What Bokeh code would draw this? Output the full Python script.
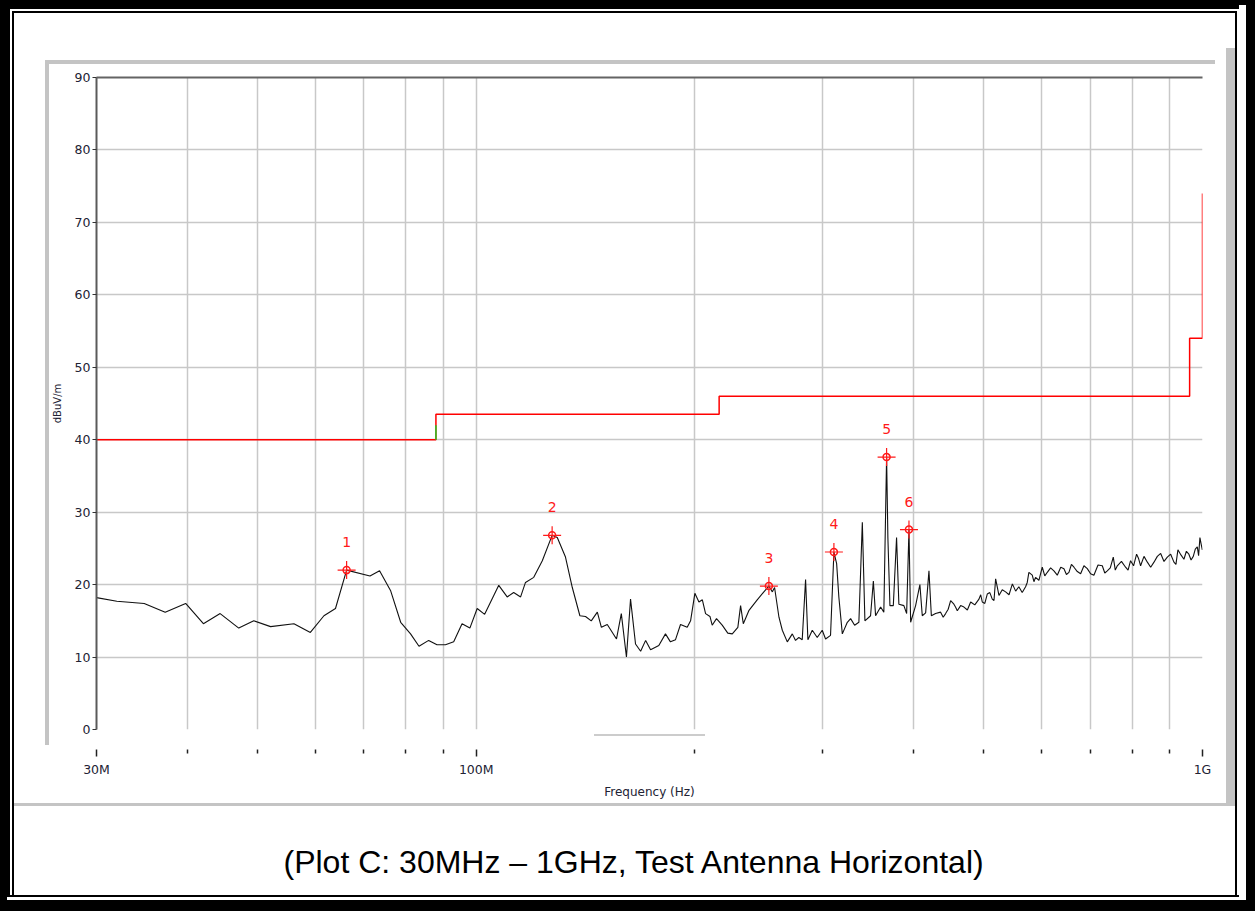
from bokeh.plotting import figure
from bokeh.models import LogAxis, FixedTicker, Range1d, Title
from bokeh.embed import file_html
from bokeh.resources import INLINE
from bokeh.core.properties import value

# ---- data (frequency in MHz, level in dBuV/m) ----
trace_freq = [
    30.0, 32.0, 34.9, 37.3, 39.8, 42.1, 44.4, 47.1, 49.4, 52.1, 56.1, 59.1, 61.7, 64.0, 66.3, 71.4, 73.6,
    76.2, 78.7, 81.2, 83.4, 86.0, 88.3, 90.7, 93.1, 95.6, 98.0, 100.3, 102.7, 107.4, 110.3, 112.6, 115.1,
    116.9, 120.0, 123.3, 127.2, 129.3, 132.7, 135.6, 138.9, 141.4, 144.0, 146.8, 148.7, 151.5, 156.0,
    158.4, 161.0, 163.1, 165.7, 168.4, 171.1,
    173.8, 178.4, 182.2, 185.1, 188.1, 191.1, 195.2, 197.3, 200.0, 202.6, 204.8, 206.9, 209.8, 211.3,
    214.2, 218.1, 222.0, 225.2, 229.2, 231.2, 233.2, 237.3, 243.7, 248.9, 252.9, 255.7, 257.5, 261.1,
    263.9, 268.1, 272.4, 275.2, 278.1, 281.1, 284.1, 286.2, 290.2, 294.8, 299.5, 302.7, 307.5, 310.8,
    313.5, 315.7, 319.2, 324.3, 327.7, 331.9, 336.4, 340.1, 342.9, 349.1, 352.2, 354.7, 360.4, 364.1,
    367.3, 368.8, 371.2, 375.2, 379.1, 381.9, 388.0, 391.4, 394.3, 396.4, 402.7, 408.2, 411.3, 415.7,
    420.1, 423.3, 429.0,
    435.9, 439.5, 442.9, 446.5, 450.0, 454.7, 457.0, 459.6, 464.5, 469.4, 474.5, 479.5, 485.8, 492.3,
    495.0, 497.5, 501.5, 505.4, 509.5, 513.5, 516.3, 519.0, 524.5, 530.0, 535.7, 541.5, 547.3, 553.0,
    558.6, 564.6, 570.7, 573.7, 576.7, 582.9, 586.0, 589.0, 595.3, 601.7, 606.5, 611.4, 617.8, 624.3,
    631.0, 638.0, 644.5, 649.6, 654.8, 660.0, 665.3, 672.4, 679.5, 686.7, 694.0, 701.3, 708.7, 718.0,
    727.8, 733.6, 739.4, 746.5, 753.6, 758.4, 763.3, 773.4, 783.6, 789.8, 796.1, 803.7, 811.4, 816.6,
    821.8, 830.7, 839.6, 848.5, 857.4, 866.6, 875.8, 885.1, 894.5, 904.0, 913.4, 919.2, 925.0, 933.9,
    942.8, 950.2, 957.7, 964.4, 971.2, 977.4, 983.6, 987.7, 991.9, 995.7, 999.5,
]
trace_db = [
    18.2, 17.7, 17.4, 16.2, 17.4, 14.6, 16.0, 14.0, 15.0, 14.2, 14.6, 13.4, 15.7, 16.7, 22.0, 21.2, 21.9,
    19.2, 14.8, 13.2, 11.5, 12.3, 11.7, 11.7, 12.1, 14.6, 14.0, 16.7, 15.9, 19.9, 18.3, 18.9, 18.3,
    20.3, 21.0, 23.3, 26.8, 26.5, 23.8, 19.6, 15.7, 15.6, 15.0, 16.2, 14.1, 14.5, 12.5,
    16.0, 10.0, 18.0, 11.8, 10.8, 12.3,
    11.0, 11.6, 13.2, 12.1, 12.4, 14.5, 14.1, 15.0, 18.8, 17.6, 17.9, 16.0, 15.6, 14.4,
    15.3, 14.4, 13.3, 13.2, 14.1, 17.1, 14.6, 16.4, 17.9, 19.0, 19.8, 19.0, 19.6, 15.5,
    13.7, 12.1, 13.2, 12.3, 12.7, 12.4, 20.7, 12.4, 13.7, 12.7, 13.7, 12.5, 13.0, 24.5,
    22.9, 18.3, 13.2, 14.8, 15.3, 14.4, 14.8, 28.6, 15.0, 15.7, 20.5, 15.7, 16.9, 16.2,
    37.6, 26.5, 17.1, 17.1, 26.5, 17.3, 17.1, 16.0, 27.6, 14.8, 17.1, 20.0, 15.7, 16.1,
    21.9, 15.7, 16.0,
    16.2, 15.5, 16.0, 16.6, 17.8, 17.3, 16.9, 16.4, 17.1, 16.9, 16.5, 17.6, 17.2, 18.0,
    18.6, 17.6, 17.4, 18.7, 18.9, 18.0, 17.8, 20.8, 18.5, 19.3, 19.0, 18.6, 20.1, 19.1,
    19.7, 18.9, 19.7, 20.3, 21.7, 21.3, 20.4, 21.0, 20.6, 22.4, 21.2, 21.7, 22.3, 21.9,
    21.3, 22.4, 22.2, 21.4, 21.7, 22.8, 22.4, 21.8, 21.5, 22.6, 22.2, 21.5, 21.3, 22.7,
    22.6, 21.6, 21.9, 22.3, 23.8, 22.0, 22.6, 23.2, 22.4, 22.0, 23.3, 22.6, 24.2, 23.6,
    22.6, 23.9, 23.1, 22.4, 23.1, 23.9, 24.3, 23.2, 23.8, 24.2, 23.1, 22.8, 24.8, 24.1,
    23.5, 24.6, 24.2, 23.4, 23.9, 24.9, 25.2, 24.0, 26.5, 25.6, 24.8,
]

limit_freq = [30, 88, 88, 216, 216, 960, 960, 1000, 1000]
limit_db = [40, 40, 43.5, 43.5, 46, 46, 54, 54, 74]
green_freq = [88, 88]
green_db = [40, 42]

marker_freq = [66.3, 127.2, 252.9, 310.8, 367.3, 394.3]
marker_db = [22.0, 26.8, 19.8, 24.5, 37.6, 27.6]
marker_labels = ["1", "2", "3", "4", "5", "6"]

x_major = [30, 100, 1000]
x_major_labels = ["30M", "100M", "1G"]
x_minor = [40, 50, 60, 70, 80, 90, 200, 300, 400, 500, 600, 700, 800, 900]
y_ticks = [0, 10, 20, 30, 40, 50, 60, 70, 80, 90]

caption = "(Plot C: 30MHz \u2013 1GHz, Test Antenna Horizontal)"

TXT = "#222233"
GRID = "#c8c8c8"
RED = "#ff1a1a"

p = figure(width=1239, height=895, x_axis_type="log",
           x_range=Range1d(30, 1000), y_range=Range1d(0, 90),
           output_backend="svg", toolbar_location=None,
           min_border_left=96, min_border_right=37, min_border_top=77, min_border_bottom=166,
           background_fill_color="white", border_fill_color=None, outline_line_color=None)

# window decoration (black report frame, gray analyser panel) painted as CSS background
rects = [
    ("#000", 0, 0, 10, 895), ("#000", 0, 0, 1239, 9),
    ("#000", 12, 11, 2, 884), ("#000", 12, 11, 1225, 2), ("#000", 1235, 11, 2, 884),
    ("#c4c4c4", 45, 60, 1170, 4), ("#c4c4c4", 45, 60, 4, 685),
    ("#c4c4c4", 1226, 48, 9, 758), ("#c4c4c4", 14, 803, 1221, 3),
    ("#cccccc", 594, 734, 111, 2),
]
p.styles = {
    "background-color": "white",
    "background-image": ", ".join(f"linear-gradient({c}, {c})" for c, *_ in rects),
    "background-position": ", ".join(f"{x}px {y}px" for _, x, y, _w, _h in rects),
    "background-size": ", ".join(f"{w}px {h}px" for *_, w, h in rects),
    "background-repeat": "no-repeat",
    "box-shadow": "0px 2px 0 0 #000, 7px 5px 0 0 #fff, 8px 8px 0 8px #000",
}

xt = FixedTicker(ticks=x_major, minor_ticks=x_minor)
p.xaxis.ticker = xt
p.xgrid.ticker = xt
p.xaxis.major_label_overrides = {k: v for k, v in zip(x_major, x_major_labels)}
p.xaxis.axis_line_color = None
p.xaxis.major_tick_in = -20
p.xaxis.major_tick_out = 27
p.xaxis.minor_tick_in = -20
p.xaxis.minor_tick_out = 24
p.xaxis.major_tick_line_color = "#222222"
p.xaxis.minor_tick_line_color = "#222222"
p.xaxis.major_tick_line_width = 1.5
p.xaxis.minor_tick_line_width = 1.5
p.xaxis.major_label_standoff = 5
p.xaxis.major_label_text_font = "DejaVu Sans"
p.xaxis.major_label_text_font_size = "12.5px"
p.xaxis.major_label_text_color = TXT
p.xaxis.axis_label = "Frequency (Hz)"
p.xaxis.axis_label_text_font = "DejaVu Sans"
p.xaxis.axis_label_text_font_size = "12px"
p.xaxis.axis_label_text_font_style = "normal"
p.xaxis.axis_label_text_color = TXT
p.xaxis.axis_label_standoff = 5

yt = FixedTicker(ticks=y_ticks)
p.yaxis.ticker = yt
p.ygrid.ticker = yt
p.yaxis.axis_line_color = "#5a5a5a"
p.yaxis.axis_line_width = 2
p.yaxis.major_tick_in = 0
p.yaxis.major_tick_out = 4
p.yaxis.major_tick_line_color = "#333333"
p.yaxis.minor_tick_line_color = None
p.yaxis.major_label_standoff = 2
p.yaxis.major_label_text_font = "DejaVu Sans"
p.yaxis.major_label_text_font_size = "12.5px"
p.yaxis.major_label_text_color = TXT
p.yaxis.axis_label = "dBuV/m"
p.yaxis.axis_label_text_font = "DejaVu Sans"
p.yaxis.axis_label_text_font_size = "10px"
p.yaxis.axis_label_text_font_style = "normal"
p.yaxis.axis_label_text_color = TXT
p.yaxis.axis_label_standoff = 9

top_axis = LogAxis(ticker=FixedTicker(ticks=[]), axis_line_color="#646464", axis_line_width=2,
                   major_tick_out=0, minor_tick_out=0, major_label_text_alpha=0)
p.add_layout(top_axis, "above")

# invisible spacer axis between the frequency axis and the caption
spacer = LogAxis(ticker=FixedTicker(ticks=[100]), major_label_overrides={100: ""},
                 axis_line_color=None, major_tick_line_color=None, minor_tick_line_color=None,
                 major_tick_in=0, major_tick_out=35, minor_tick_out=0,
                 major_label_standoff=0, major_label_text_font_size="1px")
p.add_layout(spacer, "below")

p.xgrid.grid_line_color = GRID
p.xgrid.grid_line_width = 1.5
p.xgrid.minor_grid_line_color = GRID
p.xgrid.minor_grid_line_width = 1.5
p.ygrid.grid_line_color = GRID
p.ygrid.grid_line_width = 1.5

p.line(limit_freq, limit_db, line_color="#ff0000", line_width=1.5)
p.line(green_freq, green_db, line_color="#22cc22", line_width=1.5)
p.line(trace_freq, trace_db, line_color="#111111", line_width=1.1)

p.scatter(marker_freq, marker_db, marker="circle", size=7, fill_color=None, line_color=RED, line_width=1.5)
p.scatter(marker_freq, marker_db, marker="cross", size=18, line_color=RED, line_width=1.2)
p.text(marker_freq, marker_db, text=marker_labels, text_color=RED, text_font=value("DejaVu Sans"),
       text_font_size="14px", text_align="center", text_baseline="middle", y_offset=-28)

p.add_layout(Title(text=caption, align="left", offset=187, standoff=10,
                   text_font="Liberation Sans", text_font_size="32px",
                   text_font_style="normal", text_color="black"), "below")

open("out.html", "w").write(file_html(p, INLINE))
